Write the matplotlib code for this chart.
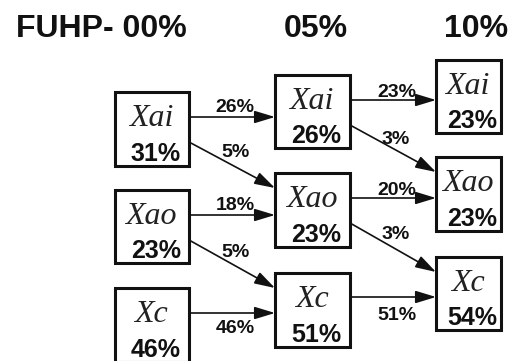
import matplotlib
matplotlib.use("Agg")
import matplotlib.pyplot as plt
from matplotlib.patches import Rectangle

# ---- data ----
stages = ["FUHP- 00%", "05%", "10%"]
classes = ["Xai", "Xao", "Xc"]
shares_00 = [31, 23, 46]
shares_05 = [26, 23, 51]
shares_10 = [23, 23, 54]
# flows: (source class index, target class index, percent)
flows_00_05 = [(0, 0, 26), (0, 1, 5), (1, 1, 18), (1, 2, 5), (2, 2, 46)]
flows_05_10 = [(0, 0, 23), (0, 1, 3), (1, 1, 20), (1, 2, 3), (2, 2, 51)]

# ---- layout (pixel coordinates, y downward) ----
W, H = 512, 361
stage_title_pos = [(101, 37), (316, 37), (476, 37)]
# boxes: (left, top, right, bottom)
boxes = [
    [(115, 92, 189, 166), (115, 190, 189, 263), (115, 288, 189, 362)],
    [(275, 75, 350, 148), (275, 173, 350, 247), (275, 273, 350, 347)],
    [(436, 60, 501, 133), (436, 157, 501, 231), (436, 257, 501, 330)],
]
name_dy = 34   # baseline of class name below box top
pct_dy = 5     # baseline of share above box bottom
# arrow y at source/target for each flow
arrows_y = [
    [(117, 117), (142, 188), (215, 215), (240, 288), (313, 313)],
    [(100, 100), (125, 172), (198, 198), (223, 272), (297, 297)],
]
label_pos = [
    [(235, 112), (235, 157), (235, 210), (235, 257), (235, 333)],
    [(397, 97), (396, 144), (397, 195), (396, 239), (397, 320)],
]

fig = plt.figure(figsize=(W / 100, H / 100), dpi=100)
ax = fig.add_axes([0, 0, 1, 1])
ax.set_xlim(0, W)
ax.set_ylim(H, 0)
ax.axis("off")

sans = "Liberation Sans"
serif = "Liberation Serif"

for (x, y), t in zip(stage_title_pos, stages):
    ax.text(x, y, t, ha="center", va="baseline", fontsize=23, fontweight="bold",
            family=sans, color="#111111")

all_shares = [shares_00, shares_05, shares_10]
for c in range(3):
    for i, cls in enumerate(classes):
        l, t, r, b = boxes[c][i]
        ax.add_patch(Rectangle((l, t), r - l, b - t, fill=False, lw=2.2,
                               edgecolor="#111111", clip_on=False))
        cx = (l + r) / 2
        ax.text(cx - 1, t + name_dy, cls, ha="center", va="baseline",
                fontsize=23, style="italic", family=serif, color="#222222")
        ax.text(cx + 4, b - pct_dy, f"{all_shares[c][i]}%", ha="center",
                va="baseline", fontsize=18, fontweight="bold", family=sans,
                color="#111111")

for s, flows in enumerate([flows_00_05, flows_05_10]):
    for k, (src, dst, pct) in enumerate(flows):
        x0 = boxes[s][src][2]
        x1 = boxes[s + 1][dst][0]
        y0, y1 = arrows_y[s][k]
        ax.annotate("", xy=(x1, y1), xytext=(x0, y0),
                    arrowprops=dict(arrowstyle="-|>,head_length=1.25,head_width=0.38",
                                    lw=1.2, color="#111111",
                                    shrinkA=0, shrinkB=0))
        lx, ly = label_pos[s][k]
        ax.text(lx, ly, f"{pct}%", ha="center", va="baseline", fontsize=14,
                fontweight="bold", family=sans, color="#111111")

fig.savefig("out.png", dpi=100)
